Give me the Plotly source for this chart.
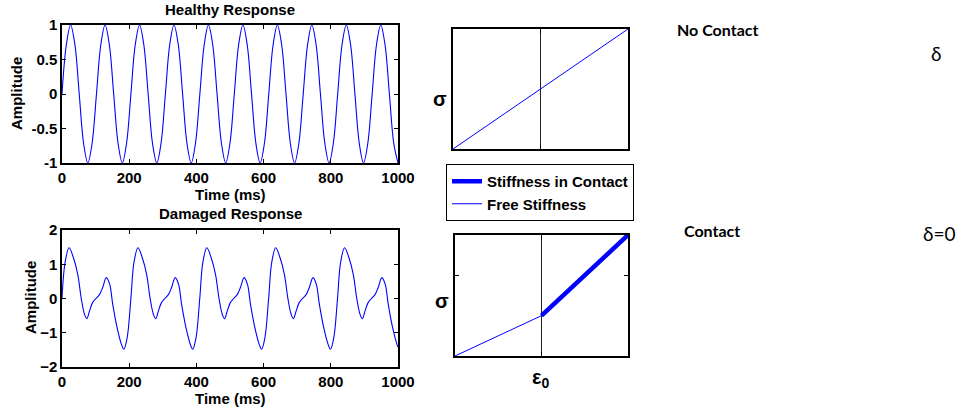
import plotly.graph_objects as go

# ---------------- data ----------------
health_t = [0, 12.8, 25.6, 38.5, 51.3, 64.1, 76.9, 89.7,
            102.6, 115.4, 128.2, 141.0, 153.8, 166.7, 179.5, 192.3,
            205.1, 217.9, 230.8, 243.6, 256.4, 269.2, 282.1, 294.9,
            307.7, 320.5, 333.3, 346.2, 359.0, 371.8, 384.6, 397.4,
            410.3, 423.1, 435.9, 448.7, 461.5, 474.4, 487.2, 500.0,
            512.8, 525.6, 538.5, 551.3, 564.1, 576.9, 589.7, 602.6,
            615.4, 628.2, 641.0, 653.8, 666.7, 679.5, 692.3, 705.1,
            717.9, 730.8, 743.6, 756.4, 769.2, 782.1, 794.9, 807.7,
            820.5, 833.3, 846.2, 859.0, 871.8, 884.6, 897.4, 910.3,
            923.1, 935.9, 948.7, 961.5, 974.4, 987.2, 1000.0]
health_amp = [0, .71, 1, .71, 0, -.71, -1, -.71,
              0, .71, 1, .71, 0, -.71, -1, -.71,
              0, .71, 1, .71, 0, -.71, -1, -.71,
              0, .71, 1, .71, 0, -.71, -1, -.71,
              0, .71, 1, .71, 0, -.71, -1, -.71,
              0, .71, 1, .71, 0, -.71, -1, -.71,
              0, .71, 1, .71, 0, -.71, -1, -.71,
              0, .71, 1, .71, 0, -.71, -1, -.71,
              0, .71, 1, .71, 0, -.71, -1, -.71,
              0, .71, 1, .71, 0, -.71, -1]

dmg_t = [0, 9, 21, 34, 47, 57, 67, 74, 82, 91, 101, 112, 121, 132, 142, 151, 164, 177, 184, 194,
         205, 214, 226, 239, 252, 262, 272, 279, 287, 296, 306, 317, 326, 337, 347, 356, 369, 382, 389, 399,
         410, 419, 431, 444, 457, 467, 477, 484, 492, 501, 511, 522, 531, 542, 552, 561, 574, 587, 594, 604,
         615, 624, 636, 649, 662, 672, 682, 689, 697, 706, 716, 727, 736, 747, 757, 766, 779, 792, 799, 809,
         820, 829, 841, 854, 867, 877, 887, 894, 902, 911, 921, 932, 941, 952, 962, 971, 984, 997, 1000]
dmg_amp = [0, 1.04, 1.48, 1.19, 0.70, 0.02, -0.46, -0.59, -0.36, -0.12, 0.00, 0.12, 0.32, 0.61, 0.41, -0.17, -0.85, -1.34, -1.48, -1.14,
           0, 1.04, 1.48, 1.19, 0.70, 0.02, -0.46, -0.59, -0.36, -0.12, 0.00, 0.12, 0.32, 0.61, 0.41, -0.17, -0.85, -1.34, -1.48, -1.14,
           0, 1.04, 1.48, 1.19, 0.70, 0.02, -0.46, -0.59, -0.36, -0.12, 0.00, 0.12, 0.32, 0.61, 0.41, -0.17, -0.85, -1.34, -1.48, -1.14,
           0, 1.04, 1.48, 1.19, 0.70, 0.02, -0.46, -0.59, -0.36, -0.12, 0.00, 0.12, 0.32, 0.61, 0.41, -0.17, -0.85, -1.34, -1.48, -1.14,
           0, 1.04, 1.48, 1.19, 0.70, 0.02, -0.46, -0.59, -0.36, -0.12, 0.00, 0.12, 0.32, 0.61, 0.41, -0.17, -0.85, -1.34, -1.42]

time_ticks = [0, 200, 400, 600, 800, 1000]
health_ticks = [-1, -0.5, 0, 0.5, 1]
health_tick_text = ["-1", "-0.5", "0", "0.5", "1"]
dmg_ticks = [-2, -1, 0, 1, 2]

# stiffness diagrams
eps0 = 1
free_strain = [0, 2]
free_stress = [0, 2]
cont_free_strain = [0, 1]
cont_free_stress = [0, 0.5]
cont_contact_strain = [1, 2]
cont_contact_stress = [0.5, 1.5]

# ---------------- figure ----------------
W, H = 963, 413
FONT = "Arial, 'Liberation Sans', sans-serif"
BLUE = "#0000ff"

fig = go.Figure()

fig.add_trace(go.Scatter(x=health_t, y=health_amp, mode="lines",
                         line=dict(color=BLUE, width=1.1, shape="spline"),
                         xaxis="x", yaxis="y", showlegend=False, hoverinfo="skip"))
fig.add_trace(go.Scatter(x=dmg_t, y=dmg_amp, mode="lines",
                         line=dict(color=BLUE, width=1.1, shape="spline"),
                         xaxis="x2", yaxis="y2", showlegend=False, hoverinfo="skip"))

# top stiffness (no contact)
fig.add_trace(go.Scatter(x=[eps0, eps0], y=[0, 2], mode="lines",
                         line=dict(color="#222222", width=1),
                         xaxis="x3", yaxis="y3", showlegend=False, hoverinfo="skip"))
fig.add_trace(go.Scatter(x=free_strain, y=free_stress, mode="lines",
                         line=dict(color=BLUE, width=1),
                         xaxis="x3", yaxis="y3", showlegend=True,
                         name="Free Stiffness", legendrank=2))

# bottom stiffness (contact)
fig.add_trace(go.Scatter(x=[eps0, eps0], y=[0, 1.5], mode="lines",
                         line=dict(color="#222222", width=1),
                         xaxis="x4", yaxis="y4", showlegend=False, hoverinfo="skip"))
fig.add_trace(go.Scatter(x=cont_free_strain, y=cont_free_stress, mode="lines",
                         line=dict(color=BLUE, width=1),
                         xaxis="x4", yaxis="y4", showlegend=False))
fig.add_trace(go.Scatter(x=cont_contact_strain, y=cont_contact_stress, mode="lines",
                         line=dict(color=BLUE, width=4.5),
                         xaxis="x4", yaxis="y4", showlegend=True,
                         name="Stiffness in Contact", legendrank=1))


def px_x(a, b):
    return [a / W, b / W]


def px_y(top, bottom):
    return [1 - bottom / H, 1 - top / H]


axis_style = dict(showline=True, linecolor="black", linewidth=1.6, mirror="ticks",
                  ticks="inside", ticklen=4, tickcolor="black", tickwidth=1,
                  showgrid=False, zeroline=False, automargin=False,
                  tickfont=dict(family=FONT, size=15, color="black", weight="bold"))

fig.update_layout(
    width=W, height=H, template="none",
    margin=dict(l=0, r=0, t=0, b=0),
    paper_bgcolor="white", plot_bgcolor="white",
    font=dict(family=FONT, size=15, color="black", weight="bold"),
    xaxis=dict(domain=px_x(62, 398), range=[0, 1000], tickvals=time_ticks, anchor="y", **axis_style),
    yaxis=dict(domain=px_y(25, 163), range=[-1, 1], tickvals=health_ticks,
               ticktext=health_tick_text, anchor="x", **axis_style),
    xaxis2=dict(domain=px_x(62, 398), range=[0, 1000], tickvals=time_ticks, anchor="y2", **axis_style),
    yaxis2=dict(domain=px_y(230, 367), range=[-2, 2], tickvals=dmg_ticks, anchor="x2", **axis_style),
    xaxis3=dict(domain=px_x(453, 628), range=[0, 2], tickvals=[eps0], showticklabels=False,
                anchor="y3", **axis_style),
    yaxis3=dict(domain=px_y(29, 149), range=[0, 2], tickvals=[], showticklabels=False,
                anchor="x3", **axis_style),
    xaxis4=dict(domain=px_x(455, 628), range=[0, 2], tickvals=[eps0], showticklabels=False,
                anchor="y4", **axis_style),
    yaxis4=dict(domain=px_y(235, 356), range=[0, 1.5], tickvals=[1], showticklabels=False,
                anchor="x4", **axis_style),
    legend=dict(x=446 / W, y=1 - 164 / H, xanchor="left", yanchor="top",
                bordercolor="black", borderwidth=1, bgcolor="white",
                font=dict(family=FONT, size=15, color="black", weight="bold"),
                tracegroupgap=0, itemwidth=30),
    showlegend=True,
)


def ann(text, xp, yp, size=15, angle=0, family=FONT, weight="bold", xanchor="center"):
    fig.add_annotation(text=text, x=xp / W, y=1 - yp / H, xref="paper", yref="paper",
                       showarrow=False, textangle=angle, xanchor=xanchor, yanchor="middle",
                       font=dict(family=family, size=size, color="black", weight=weight))


ann("Healthy Response", 230, 9)
ann("Time (ms)", 230, 194)
ann("Amplitude", 17, 94, angle=-90)
ann("Damaged Response", 230, 213)
ann("Time (ms)", 230, 398)
ann("Amplitude", 30, 298, angle=-90)
ann("σ", 440, 99, size=20)
ann("σ", 442, 301, size=20)
ann("ε<sub>0</sub>", 541, 378, size=20)

LATO = "Lato, 'Open Sans', sans-serif"
ann("No Contact", 675, 30, size=16, family=LATO, xanchor="left")
ann("δ", 936, 53, size=19, family=LATO, weight="normal")
ann("Contact", 682, 231, size=16, family=LATO, xanchor="left")
ann("δ=0", 939, 233, size=19, family=LATO, weight="normal")

fig.write_html("out.html",
               config={"displayModeBar": False, "staticPlot": True},
               post_script="document.body.style.margin='0px';document.body.style.overflow='hidden';")
